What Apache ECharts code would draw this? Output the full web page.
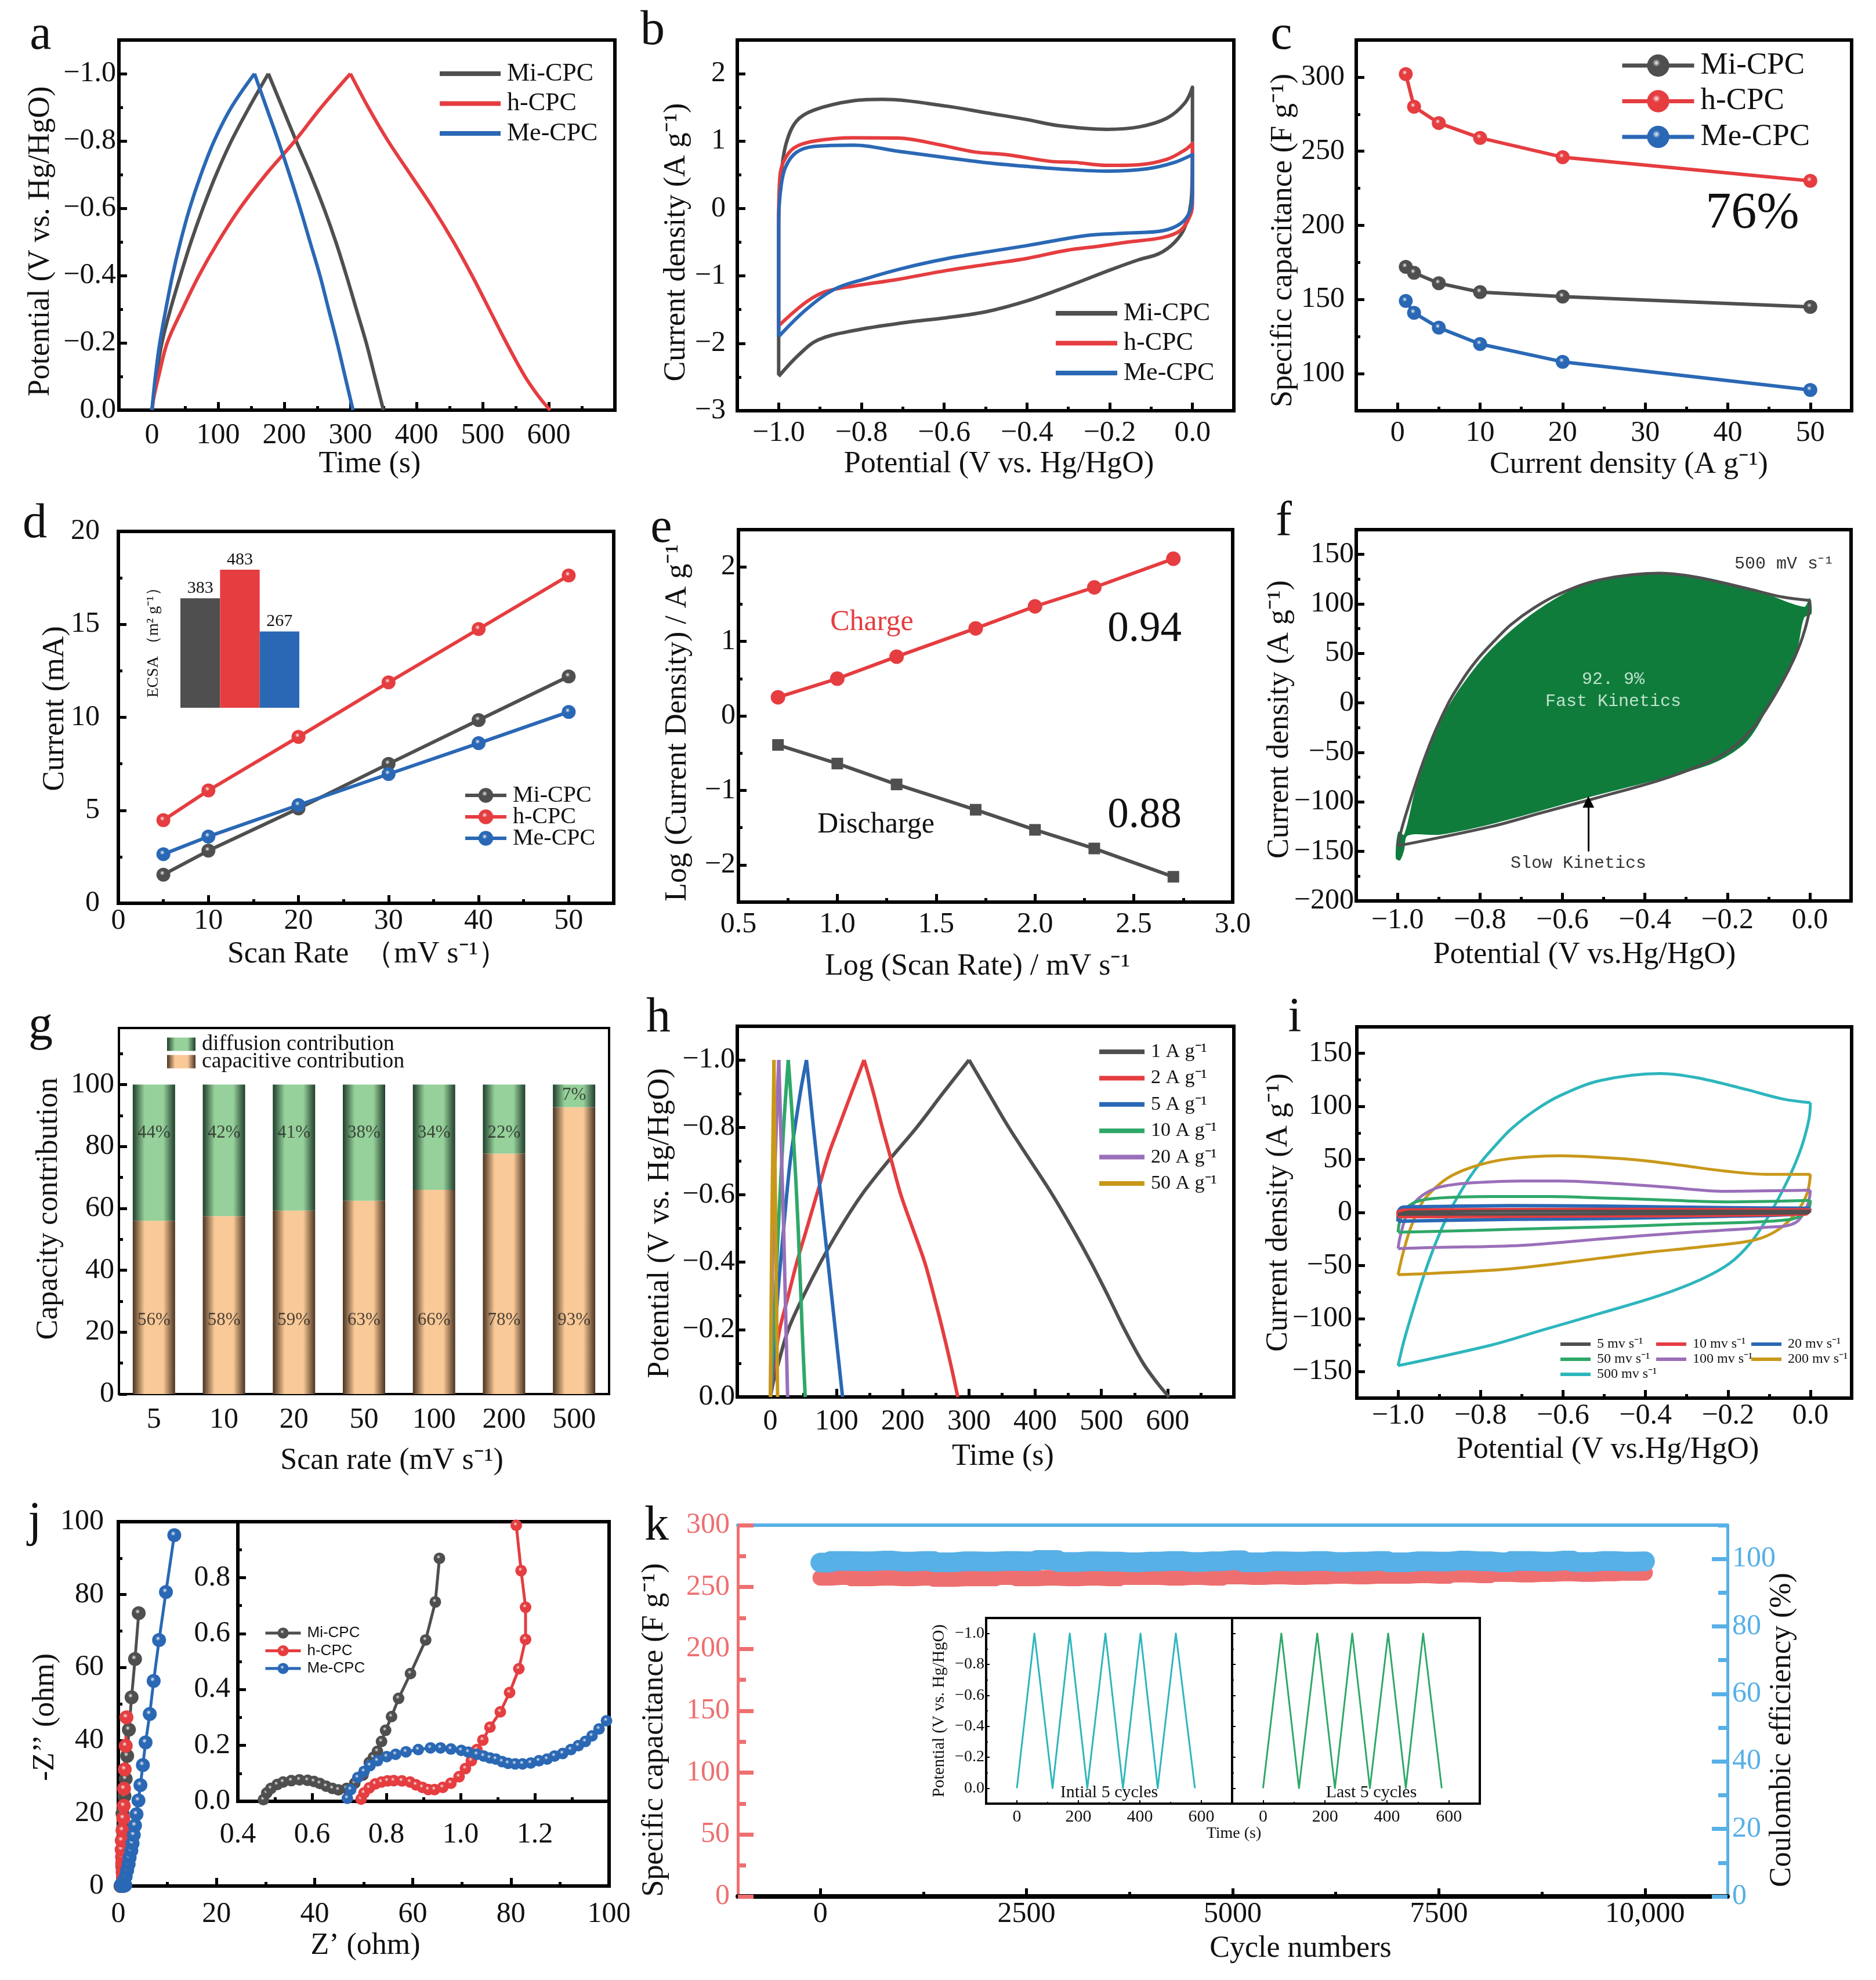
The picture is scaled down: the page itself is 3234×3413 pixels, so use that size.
<!DOCTYPE html>
<html>
<head>
<meta charset="utf-8">
<title>h-CPC electrochemical performance</title>
<script src="https://cdn.jsdelivr.net/npm/echarts@6/dist/echarts.min.js"></script>
<style>
html, body { margin: 0; padding: 0; background: #fff; }
#page { position: relative; width: 3234px; height: 3413px; overflow: hidden; background: #fff; }
#page > div { position: absolute; }
</style>
</head>
<body>
<div id="page"></div>
<script>
// ---------- a: galvanostatic charge/discharge ----------
var aMi = [[0,0],[5,-0.08],[15,-0.2],[28,-0.3],[43,-0.4],[59,-0.5],[77,-0.6],[97,-0.7],[120,-0.8],[147,-0.9],[176,-1],[197,-0.9],[218,-0.8],[240,-0.7],[260,-0.6],[278,-0.5],[294,-0.4],[309,-0.3],[324,-0.2],[337,-0.1],[350,0]];
var aH = [[0,0],[3,-0.04],[10,-0.1],[23,-0.2],[46,-0.3],[71,-0.4],[100,-0.5],[133,-0.6],[172,-0.7],[216,-0.8],[256,-0.9],[300,-1],[327,-0.9],[357,-0.8],[391,-0.7],[425,-0.6],[456,-0.5],[484,-0.4],[510,-0.3],[536,-0.2],[564,-0.1],[585,-0.04],[602,0]];
var aMe = [[0,0],[4,-0.08],[11,-0.19],[20,-0.29],[31,-0.4],[43,-0.5],[57,-0.6],[74,-0.7],[94,-0.8],[120,-0.9],[155,-1],[173,-0.9],[191,-0.8],[208,-0.7],[224,-0.6],[239,-0.5],[254,-0.4],[267,-0.3],[280,-0.2],[292,-0.1],[304,0]];
var aXTicks = [0,100,200,300,400,500,600];
var gcdYTicks = [-1,-0.8,-0.6,-0.4,-0.2,0];

// ---------- b: CV at one scan rate ----------
var bMi = [[-1,-2.47],[-1,-0.2],[-0.994,0.48],[-0.983,0.94],[-0.958,1.29],[-0.915,1.46],[-0.818,1.6],[-0.75,1.62],[-0.595,1.52],[-0.498,1.42],[-0.4,1.32],[-0.324,1.23],[-0.207,1.175],[-0.13,1.21],[-0.062,1.34],[-0.018,1.57],[0,1.8],[0,0.99],[-0.002,0.2],[-0.018,-0.27],[-0.043,-0.5],[-0.081,-0.67],[-0.13,-0.76],[-0.198,-0.91],[-0.304,-1.16],[-0.4,-1.37],[-0.498,-1.53],[-0.595,-1.62],[-0.692,-1.69],[-0.818,-1.81],[-0.905,-1.95],[-0.953,-2.18],[-1,-2.49]];
var bH = [[-1,-1.76],[-1,-0.18],[-0.997,0.48],[-0.987,0.71],[-0.963,0.9],[-0.915,1],[-0.818,1.05],[-0.711,1.045],[-0.614,0.95],[-0.527,0.84],[-0.45,0.8],[-0.343,0.7],[-0.285,0.685],[-0.207,0.64],[-0.13,0.65],[-0.062,0.73],[-0.018,0.87],[0,0.965],[0,0.1],[-0.004,-0.08],[-0.028,-0.32],[-0.072,-0.43],[-0.159,-0.5],[-0.227,-0.56],[-0.304,-0.62],[-0.4,-0.74],[-0.498,-0.83],[-0.595,-0.92],[-0.711,-1.05],[-0.818,-1.15],[-0.886,-1.23],[-0.934,-1.39],[-1,-1.74]];
var bMe = [[-1,-1.9],[-1,-0.18],[-0.994,0.34],[-0.983,0.62],[-0.958,0.83],[-0.915,0.92],[-0.818,0.94],[-0.711,0.85],[-0.595,0.755],[-0.498,0.68],[-0.4,0.625],[-0.304,0.58],[-0.207,0.555],[-0.11,0.59],[-0.043,0.685],[0,0.8],[0,0.2],[-0.006,-0.04],[-0.028,-0.22],[-0.072,-0.33],[-0.159,-0.365],[-0.256,-0.4],[-0.4,-0.55],[-0.498,-0.645],[-0.595,-0.745],[-0.692,-0.875],[-0.789,-1.04],[-0.866,-1.2],[-0.934,-1.5],[-1,-1.9]];
var potentialTicks = [-1,-0.8,-0.6,-0.4,-0.2,0];
var bYTicks = [-3,-2,-1,0,1,2];

// ---------- c: rate capability ----------
var cCurrent = [1,2,5,10,20,50];
var cMi = [172,168,161,155,152,145];
var cH = [302,280,269,259,246,230];
var cMe = [149,141,131,120,108,89];
var cXTicks = [0,10,20,30,40,50];
var cYTicks = [100,150,200,250,300];

// ---------- d: current vs scan rate, ECSA inset ----------
var dScan = [5,10,20,30,40,50];
var dMi = [1.54,2.83,5.1,7.5,9.85,12.2];
var dH = [4.47,6.07,8.95,11.88,14.75,17.63];
var dMe = [2.64,3.59,5.28,6.95,8.61,10.29];
var dXTicks = [0,10,20,30,40,50];
var dYTicks = [0,5,10,15,20];
var ecsaNames = ['Mi-CPC','h-CPC','Me-CPC'];
var ecsaValues = [383,483,267];

// ---------- e: log-log fit ----------
var eLogScan = [0.7,1,1.3,1.7,2,2.3,2.7];
var eCharge = [0.25,0.5,0.795,1.175,1.47,1.725,2.11];
var eDischarge = [-0.39,-0.64,-0.92,-1.26,-1.53,-1.78,-2.16];
var eXTicks = [0.5,1,1.5,2,2.5,3];
var eYTicks = [-2,-1,0,1,2];

// ---------- f, i: CV at scan rates ----------
var cv500 = [[-1,-144.4],[-0.987,-123],[-0.967,-96],[-0.938,-60],[-0.908,-28],[-0.875,1],[-0.852,17],[-0.83,31],[-0.8,47],[-0.762,64],[-0.725,79],[-0.669,96],[-0.608,110],[-0.509,124.4],[-0.364,131],[-0.275,127],[-0.156,116],[-0.067,107],[0,103.5],[-0.003,89],[-0.018,66],[-0.038,45],[-0.067,21],[-0.107,-7],[-0.146,-29],[-0.196,-48],[-0.265,-63],[-0.364,-78],[-0.509,-95],[-0.651,-111],[-0.772,-124.8],[-1,-144.4]];
var fastKinetics = [[-1.004,-157],[-0.998,-130],[-0.984,-133],[-0.955,-85],[-0.9,-22],[-0.85,14],[-0.778,52],[-0.68,88],[-0.563,117],[-0.445,129.5],[-0.367,132],[-0.269,128],[-0.131,114],[-0.014,97],[0,106],[0.004,90],[-0.014,86],[-0.033,51],[-0.092,3],[-0.151,-38],[-0.229,-60],[-0.347,-75],[-0.524,-94],[-0.759,-121],[-0.896,-133],[-0.975,-134],[-0.984,-149],[-0.994,-159]];
var cvXTicks = [-1,-0.8,-0.6,-0.4,-0.2,0];
var fYTicks = [-200,-150,-100,-50,0,50,100,150];
var cv200 = [[-1,-58.6],[-0.9875,-37.7],[-0.969,-14],[-0.941,9.7],[-0.912,22.4],[-0.88,32.4],[-0.842,39.7],[-0.8,45.2],[-0.748,49.7],[-0.678,52.5],[-0.608,53.4],[-0.509,52],[-0.405,49],[-0.305,44],[-0.206,39],[-0.107,36],[0,36],[-0.008,18],[-0.033,0.6],[-0.077,-16],[-0.136,-26],[-0.255,-32],[-0.404,-38],[-0.509,-43],[-0.725,-53],[-0.936,-57.7],[-1,-58.6]];
var cv100 = [[-1,-34],[-0.995,-23],[-0.978,-1.3],[-0.95,13.3],[-0.912,22.4],[-0.88,25.5],[-0.819,28],[-0.701,29.7],[-0.608,29.7],[-0.509,28.2],[-0.354,24],[-0.206,20],[0,21],[-0.008,6],[-0.038,-10],[-0.107,-14],[-0.305,-19],[-0.509,-25],[-0.701,-31],[-0.912,-33],[-1,-34]];
var cv50 = [[-1,-18.6],[-0.996,-8.6],[-0.983,2.4],[-0.959,9.7],[-0.912,13.3],[-0.772,15],[-0.631,15],[-0.509,13.7],[-0.404,12.5],[-0.206,10],[0,11.5],[-0.008,0.6],[-0.057,-7],[-0.305,-11],[-0.509,-13.7],[-0.725,-15.8],[-0.889,-17.7],[-1,-18.6]];
var cv20 = [[-1,-8.6],[-1,-0.4],[-0.987,5],[-0.912,5.6],[-0.725,6.4],[-0.509,6],[-0.2,4.5],[0,4],[-0.013,-1],[-0.206,-3.5],[-0.509,-5.8],[-0.725,-6.4],[-0.997,-8.2],[-1,-8.6]];
var cv10 = [[-1,-4],[-1,0],[-0.98,2.2],[-0.912,2.4],[-0.509,2.9],[0,2.4],[-0.013,-1.5],[-0.725,-3.5],[-1,-4]];
var cv5 = [[-1,-1.8],[-0.97,0.6],[-0.6,1.2],[0,1.2],[-0.013,-0.6],[-0.6,-1.5],[-1,-1.8]];
var iYTicks = [-150,-100,-50,0,50,100,150];

// ---------- g: capacity contribution ----------
var gScan = ['5','10','20','50','100','200','500'];
var gCapacitive = [56,57.5,59.3,62.5,66,77.7,92.7];
var gDiffusion = [44,42.5,40.7,37.5,34,22.3,7.3];
var gCapLabels = ['56%','58%','59%','63%','66%','78%','93%'];
var gDifLabels = ['44%','42%','41%','38%','34%','22%','7%'];
var gYTicks = [0,20,40,60,80,100];

// ---------- h: GCD at current densities ----------
var h1 = [[0,0],[5,-0.05],[12,-0.1],[27,-0.2],[50,-0.3],[76,-0.4],[105,-0.5],[138,-0.6],[178,-0.7],[221,-0.8],[260,-0.9],[300,-1],[330,-0.9],[360,-0.8],[393,-0.7],[426,-0.6],[456,-0.5],[484,-0.4],[510,-0.3],[535,-0.2],[563,-0.1],[585,-0.04],[602,0]];
var h2 = [[0,0],[6,-0.1],[14,-0.2],[27,-0.3],[40,-0.4],[55,-0.5],[73,-0.62],[88,-0.72],[103,-0.8],[122,-0.9],[141.5,-1],[156,-0.9],[169,-0.8],[183,-0.7],[197,-0.6],[215,-0.5],[233,-0.4],[247,-0.3],[260,-0.2],[272,-0.1],[283,0]];
var h5 = [[0,0],[4,-0.1],[11,-0.3],[20,-0.5],[30,-0.7],[45,-0.9],[54.5,-1],[65,-0.8],[76,-0.6],[87,-0.4],[98,-0.2],[109,0]];
var h10 = [[0,0],[5,-0.2],[12,-0.5],[20,-0.8],[27,-1],[34,-0.8],[42,-0.5],[48,-0.2],[52.6,0]];
var h20 = [[0,0],[4,-0.5],[8,-0.75],[12.7,-1],[17,-0.7],[20,-0.5],[26,0]];
var h50 = [[0,0],[2.2,-0.5],[5.4,-1],[8,-0.5],[10.9,0]];
var hXTicks = [0,100,200,300,400,500,600];

// ---------- j: Nyquist ----------
var jMiLow = [[0.469,0.006],[0.478,0.03],[0.489,0.046],[0.506,0.06],[0.522,0.069],[0.544,0.074],[0.566,0.077],[0.588,0.075],[0.605,0.071],[0.621,0.064],[0.638,0.054],[0.655,0.046],[0.671,0.041],[0.693,0.046],[0.715,0.065],[0.737,0.094],[0.754,0.139],[0.765,0.157],[0.776,0.179],[0.787,0.214],[0.798,0.254],[0.814,0.303],[0.833,0.368],[0.865,0.457],[0.906,0.577],[0.932,0.713],[0.943,0.869]];
var jMiHigh = [[0.95,1.2],[0.95,1.8],[0.95,2.6],[0.9,3.8],[0.8,5.5],[0.85,7.5],[0.9,10],[0.95,13],[1,16],[0.85,19.9],[1.25,24.7],[1.5,29.4],[1.8,35.7],[2.15,42.9],[2.7,51.8],[3.4,62.3],[4.15,74.9]];
var jHLow = [[0.732,0.008],[0.74,0.03],[0.754,0.048],[0.77,0.062],[0.787,0.069],[0.803,0.073],[0.82,0.074],[0.842,0.073],[0.864,0.069],[0.88,0.059],[0.897,0.05],[0.913,0.042],[0.93,0.042],[0.952,0.05],[0.974,0.065],[0.996,0.088],[1.013,0.117],[1.029,0.145],[1.044,0.185],[1.06,0.219],[1.079,0.265],[1.107,0.32],[1.132,0.389],[1.157,0.474],[1.175,0.579],[1.175,0.694],[1.163,0.825],[1.15,0.987]];
var jHHigh = [[1.08,1.25],[1.05,1.65],[1,2.2],[0.95,2.9],[0.9,3.8],[0.85,5],[0.8,6.3],[0.75,8],[0.68,10],[0.7,12.5],[0.85,15.3],[1,18.6],[1.1,22],[1.15,26.7],[1.3,32],[1.5,38.5],[1.65,46.3]];
var jMeLow = [[0.695,0.011],[0.704,0.042],[0.723,0.085],[0.74,0.107],[0.756,0.128],[0.776,0.145],[0.801,0.16],[0.825,0.168],[0.853,0.177],[0.886,0.185],[0.919,0.191],[0.946,0.191],[0.974,0.187],[1.002,0.182],[1.021,0.176],[1.044,0.168],[1.062,0.162],[1.079,0.155],[1.095,0.151],[1.112,0.142],[1.128,0.136],[1.147,0.134],[1.167,0.134],[1.189,0.137],[1.211,0.145],[1.233,0.151],[1.253,0.162],[1.275,0.171],[1.297,0.185],[1.317,0.199],[1.336,0.214],[1.354,0.234],[1.373,0.259],[1.393,0.288]];
var jMeHigh = [[0.6,0.4],[1.1,1.3],[1.5,2.6],[1.8,4.3],[2.1,6],[2.3,7.8],[2.65,9.7],[2.9,11.7],[3.15,14],[3.4,16.6],[3.7,19.7],[4.1,23.5],[4.5,27.7],[5,33.2],[5.55,39.4],[6.4,47.2],[7.2,56.3],[8.3,67.5],[9.7,80.7],[11.4,96.3]];
var jTicks = [0,20,40,60,80,100];
var jInsetXTicks = [0.4,0.6,0.8,1,1.2];
var jInsetYTicks = [0,0.2,0.4,0.6,0.8];

// ---------- k: cycling ----------
var kCycles = [0,250,500,750,1000,1250,1500,1750,2000,2250,2500,2750,3000,3250,3500,3750,4000,4250,4500,4750,5000,5250,5500,5750,6000,6250,6500,6750,7000,7250,7500,7750,8000,8250,8500,8750,9000,9250,9500,9750,10000];
var kCapacitance = [257.5,258,257,257.5,257,257.5,256.5,257,257,258,257,257.5,257,257.5,257,258,258,257.5,258,257.5,258.5,258,258.5,258,258.5,259,258.5,259,259,259.5,259,260,259.5,260.5,260,260.5,261,260.5,261,261.5,261.5];
var kEfficiency = [98.9,99.4,99.3,99.5,99.2,99.4,99,99.3,99.2,99.4,99.3,99.7,99.1,99.3,99.2,99,99.2,99.4,99.1,99.3,99.6,99,99.3,99.2,99.4,99.1,99.2,99.4,99,99.3,99.2,99.5,99.3,99,99.4,99.2,99.5,99.1,99.4,99.2,99.3];
var kXTicks = [0,2500,5000,7500,10000];
var kLeftTicks = [0,50,100,150,200,250,300];
var kRightTicks = [0,20,40,60,80,100];
var kInitial = [[0,0],[57,-1],[116,0],[172,-1],[229,0],[288,-1],[345,0],[402,-1],[458,0],[517,-1],[579,0]];
var kLast = [[0,0],[59,-1],[116,0],[175,-1],[232,0],[288,-1],[345,0],[404,-1],[461,0],[517,-1],[577,0]];
var kInsetXTicks = [0,200,400,600];

var SERIF = 'Liberation Serif';
var GRAY = '#4f4f4f', RED = '#e53d40', BLUE = '#2a68b5';
var TEAL = '#2db6bc', GREEN = '#2ea868', PURPLE = '#9a6fba', GOLD = '#c9981a';
var ox = 0, oy = 0;

function fmt1(v) { return v.toFixed(1).replace('-', '\u2212'); }
function fmt0(v) { return v.toFixed(0).replace('-', '\u2212'); }

function minorsOf(major, min, max) {
    var step = major[1] - major[0], out = [];
    for (var v = major[0] - step / 2; v <= Math.max(min, max) + 1e-9; v += step) {
        if (v >= Math.min(min, max) - 1e-9) out.push(Math.round(v * 1e6) / 1e6);
    }
    return out;
}

// returns [major axis, minor-tick axis] sharing the same scale
function axisPair(o) {
    var font = o.fontSize || 50;
    var pad = 0;
    var shift = o.shift || 0;
    if (o.vertical) pad = shift > 0 ? [0, 2 * shift, 0, 0] : [0, 0, 0, -2 * shift];
    else pad = shift > 0 ? [0, 0, 0, 2 * shift] : [0, -2 * shift, 0, 0];
    var tickColor = o.color || '#000';
    var base = {
        type: 'value', gridIndex: o.grid || 0, min: o.min, max: o.max, inverse: !!o.inverse,
        position: o.position, splitLine: { show: false },
        axisLine: { show: !!o.line, onZero: false, lineStyle: { color: tickColor, width: o.line || 1 } }
    };
    var major = Object.assign({}, base, {
        name: o.name, nameLocation: 'middle', nameGap: o.nameGap, nameMoveOverlap: false,
        nameRotate: o.vertical ? 90 : 0,
        nameTextStyle: { fontFamily: SERIF, fontSize: o.nameSize || 52, color: o.nameColor || '#111', padding: pad },
        axisTick: { show: true, inside: true, length: o.tick || 14, customValues: o.ticks, lineStyle: { color: tickColor, width: o.tickWidth || 5 } },
        axisLabel: { show: o.noLabels ? false : true, inside: false, margin: o.margin, customValues: o.labelTicks || o.ticks, formatter: o.fmt,
            fontFamily: SERIF, fontSize: font, color: o.labelColor || '#111', hideOverlap: false }
    });
    var minor = Object.assign({}, base, {
        axisLine: { show: false, onZero: false },
        axisTick: { show: true, inside: true, length: o.minorTick || 7, customValues: minorsOf(o.ticks, o.min, o.max), lineStyle: { color: tickColor, width: o.minorWidth || 5 } },
        axisLabel: { show: false }
    });
    return [major, minor];
}

function gridBox(box, border, z) {
    return { left: box[0] - ox, top: box[1] - oy, width: box[2] - box[0], height: box[3] - box[1], outerBoundsMode: 'none',
        show: true, borderColor: '#000', borderWidth: border === undefined ? 6 : border, backgroundColor: 'transparent', z: z || 2 };
}

function note(text, x, y, size, color, family, rot) {
    return { type: 'text', x: x - ox, y: y - oy, rotation: rot || 0, z: 50,
        style: { text: text, fill: color || '#111', fontFamily: family || SERIF, fontSize: size, align: 'center', verticalAlign: 'middle' } };
}

function letter(ch, x, y) { return note(ch, x, y, 84, '#111'); }

function legendAt(names, left, firstRow, pitch, lineLen, iconH, size, family) {
    // tight rows: text height is the font size, so a pitch below it needs a negative gap
    var rowH = Math.max(pitch, size);
    return { data: names, orient: 'vertical', selectedMode: false, left: left - ox, top: firstRow - rowH / 2 - oy, padding: 0,
        itemGap: pitch - rowH, itemWidth: lineLen, itemHeight: iconH,
        textStyle: { fontFamily: family || SERIF, fontSize: size, color: '#111', lineHeight: rowH, padding: [0, 0, 0, 6] } };
}

function plainLegend(names, left, firstRow, pitch, lineLen, iconH, size) {
    return Object.assign(legendAt(names, left, firstRow, pitch, lineLen, iconH, size), { icon: 'rect' });
}

function ballLegend(names, left, firstRow, pitch, lineLen, iconH, size, family, width) {
    return Object.assign(legendAt(names, left, firstRow, pitch, lineLen, iconH, size, family), { lineStyle: { width: width } });
}

function line(name, data, color, width, xi, yi) {
    return { type: 'line', name: name, data: data, xAxisIndex: xi || 0, yAxisIndex: yi || 0, showSymbol: false, symbol: 'none', silent: true,
        lineStyle: { color: color, width: width || 6, join: 'round' }, itemStyle: { color: color } };
}

// break a curve at its sharp turns so only the branches get smoothed: dim 0 for CV loops, dim 1 for GCD triangles
function branches(name, data, color, width, dim) {
    var out = [], piece = [data[0]], sign = 0;
    for (var i = 1; i < data.length; i++) {
        var d = data[i][dim] - data[i - 1][dim];
        var s = d > 0 ? 1 : (d < 0 ? -1 : 0);
        if (s && sign && s !== sign) {
            out.push(piece);
            piece = [data[i - 1]];
        }
        if (s) sign = s;
        piece.push(data[i]);
    }
    out.push(piece);
    return out.map(function (p) {
        var l = line(name, p, color, width);
        l.smooth = 0.35;
        return l;
    });
}

function sphere(color) {
    return new echarts.graphic.RadialGradient(0.42, 0.38, 0.62, [
        { offset: 0, color: '#f2f2f2' }, { offset: 0.28, color: color }, { offset: 1, color: color }
    ]);
}

function ball(name, data, color, size, width, xi, yi) {
    return { type: 'line', name: name, data: data, xAxisIndex: xi || 0, yAxisIndex: yi || 0, symbol: 'circle', symbolSize: size, showSymbol: true, showAllSymbol: true, silent: true,
        lineStyle: { color: color, width: width || 6 }, itemStyle: { color: sphere(color) } };
}

function pairs(xs, ys) { return xs.map(function (x, i) { return [x, ys[i]]; }); }

function makePanel(region, build) {
    ox = region[0]; oy = region[1];
    var div = document.createElement('div');
    div.style.left = region[0] + 'px'; div.style.top = region[1] + 'px';
    div.style.width = region[2] + 'px'; div.style.height = region[3] + 'px';
    document.getElementById('page').appendChild(div);
    var chart = echarts.init(div, null, { renderer: 'canvas' });
    var option = build();
    option.animation = false;
    chart.setOption(option);
    return chart;
}

var cpcNames = ['Mi-CPC', 'h-CPC', 'Me-CPC'];

// a
makePanel([0, 0, 1085, 850], function () {
    return {
        grid: [gridBox([205, 69, 1060, 707])],
        xAxis: axisPair({ min: -50, max: 700, ticks: aXTicks, fmt: fmt0, margin: 19, name: 'Time (s)', nameGap: 67, shift: 5, position: 'bottom' }),
        yAxis: axisPair({ min: -1.1, max: 0, inverse: true, ticks: gcdYTicks, fmt: fmt1, margin: 5, name: 'Potential (V vs. Hg/HgO)', nameGap: 109, shift: 28, vertical: true, position: 'left' }),
        legend: plainLegend(cpcNames, 758, 127, 51.5, 105, 8, 44),
        series: [].concat(branches('Mi-CPC', aMi, GRAY, 6, 1), branches('h-CPC', aH, RED, 6, 1), branches('Me-CPC', aMe, BLUE, 6, 1)),
        graphic: [letter('a', 70, 62)]
    };
});

// b
makePanel([1085, 0, 1065, 850], function () {
    return {
        grid: [gridBox([1271, 69, 2127, 708])],
        xAxis: axisPair({ min: -1.1, max: 0.1, ticks: potentialTicks, fmt: fmt1, margin: 14, name: 'Potential (V vs. Hg/HgO)', nameGap: 66, shift: 23, position: 'bottom' }),
        yAxis: axisPair({ min: -3, max: 2.5, ticks: bYTicks, fmt: fmt0, margin: 20, name: 'Current density (A g\u207b\u00b9)', nameGap: 79, shift: 29, vertical: true, position: 'left' }),
        legend: plainLegend(cpcNames, 1820, 540, 51.5, 106, 8, 44),
        series: [].concat(branches('Mi-CPC', bMi, GRAY, 6, 0), branches('h-CPC', bH, RED, 6, 0), branches('Me-CPC', bMe, BLUE, 6, 0)),
        graphic: [letter('b', 1125, 54)]
    };
});

// c
makePanel([2150, 0, 1084, 850], function () {
    return {
        grid: [gridBox([2338, 69, 3192, 708])],
        xAxis: axisPair({ min: -5, max: 55, ticks: cXTicks, fmt: fmt0, margin: 14, name: 'Current density (A g\u207b\u00b9)', nameGap: 67, shift: 43, position: 'bottom' }),
        yAxis: axisPair({ min: 75, max: 325, ticks: cYTicks, fmt: fmt0, margin: 20, name: 'Specific capacitance (F g\u207b\u00b9)', nameGap: 100, shift: 26, vertical: true, position: 'left' }),
        legend: ballLegend(cpcNames, 2793, 113, 61.5, 124, 48, 53, SERIF, 7),
        series: [ball('Mi-CPC', pairs(cCurrent, cMi), GRAY, 24), ball('h-CPC', pairs(cCurrent, cH), RED, 24), ball('Me-CPC', pairs(cCurrent, cMe), BLUE, 24)],
        graphic: [letter('c', 2209, 62), note('76%', 3021, 369, 88)]
    };
});

// d with ECSA bars
makePanel([0, 850, 1085, 850], function () {
    var xs = axisPair({ min: 0, max: 55, ticks: dXTicks, fmt: fmt0, margin: 6, name: 'Scan Rate  \uff08mV s\u207b\u00b9\uff09', nameGap: 62, shift: 3, position: 'bottom' });
    var ys = axisPair({ min: 0, max: 20, ticks: dYTicks, fmt: fmt0, margin: 32, name: 'Current (mA)', nameGap: 83, shift: -15, vertical: true, position: 'left' });
    xs.push({ type: 'category', gridIndex: 1, data: ecsaNames, show: false });
    ys.push({ type: 'value', gridIndex: 1, min: 0, max: 483, splitLine: { show: false }, axisLine: { show: false }, axisTick: { show: false }, axisLabel: { show: false },
        name: 'ECSA \uff08m\u00b2 g\u207b\u00b9\uff09', nameLocation: 'middle', nameGap: 32, nameRotate: 90, nameMoveOverlap: false,
        nameTextStyle: { fontFamily: SERIF, fontSize: 28, color: '#111' } });
    var ecsaColors = [GRAY, RED, BLUE];
    return {
        grid: [gridBox([204, 916, 1058, 1557]), Object.assign(gridBox([311, 982, 516, 1220], 0), { show: false })],
        xAxis: xs, yAxis: ys,
        legend: ballLegend(cpcNames, 799, 1371, 37, 71, 32, 40, SERIF, 6),
        series: [
            ball('Mi-CPC', pairs(dScan, dMi), GRAY, 24), ball('h-CPC', pairs(dScan, dH), RED, 24), ball('Me-CPC', pairs(dScan, dMe), BLUE, 24),
            { type: 'bar', name: 'ECSA', xAxisIndex: 2, yAxisIndex: 2, data: ecsaValues, barCategoryGap: '0%', silent: true,
              itemStyle: { color: function (p) { return ecsaColors[p.dataIndex]; } },
              label: { show: true, position: 'top', distance: 2, fontFamily: SERIF, fontSize: 30, color: '#111' } }
        ],
        graphic: [letter('d', 60, 904)]
    };
});

// e
makePanel([1085, 850, 1100, 850], function () {
    return {
        grid: [gridBox([1273, 913, 2125, 1555])],
        xAxis: axisPair({ min: 0.5, max: 3, ticks: eXTicks, fmt: fmt1, margin: 14, name: 'Log (Scan Rate) / mV s\u207b\u00b9', nameGap: 85, shift: -14, position: 'bottom' }),
        yAxis: axisPair({ min: -2.5, max: 2.5, ticks: eYTicks, fmt: fmt0, margin: 5, name: 'Log (Current Density) / A g\u207b\u00b9', nameGap: 79, shift: 12, vertical: true, position: 'left' }),
        series: [
            { type: 'line', name: 'Discharge', data: pairs(eLogScan, eDischarge), symbol: 'rect', symbolSize: 20, silent: true, lineStyle: { color: GRAY, width: 6 }, itemStyle: { color: GRAY } },
            { type: 'line', name: 'Charge', data: pairs(eLogScan, eCharge), symbol: 'circle', symbolSize: 25, silent: true, lineStyle: { color: RED, width: 6 }, itemStyle: { color: RED } }
        ],
        graphic: [letter('e', 1140, 912), note('Charge', 1503, 1073, 50, RED), note('Discharge', 1510, 1422, 50), note('0.94', 1973, 1086, 73), note('0.88', 1973, 1407, 73)]
    };
});

// f
makePanel([2150, 850, 1084, 850], function () {
    var outline = branches('500 mV s\u207b\u00b9', cv500, GRAY, 5, 0);
    outline[0].markLine = { silent: true, symbol: ['none', 'triangle'], symbolSize: 20, label: { show: false }, animation: false,
        lineStyle: { color: '#000', width: 3, type: 'solid' },
        data: [[{ coord: [-0.537, -150] }, { coord: [-0.537, -100] }]] };
    return {
        grid: [gridBox([2338, 913, 3191, 1553])],
        xAxis: axisPair({ min: -1.1, max: 0.1, ticks: cvXTicks, fmt: fmt1, margin: 9, name: 'Potential (V vs.Hg/HgO)', nameGap: 67, shift: -33, position: 'bottom' }),
        yAxis: axisPair({ min: -200, max: 175, ticks: fYTicks, fmt: fmt0, margin: 4, name: 'Current density (A g\u207b\u00b9)', nameGap: 106, shift: 7, vertical: true, position: 'left' }),
        series: [{
            type: 'custom', name: 'Fast Kinetics', coordinateSystem: 'cartesian2d', data: fastKinetics, silent: true, clip: false,
            renderItem: function (params, api) {
                if (params.dataIndex !== 0) return null;
                return { type: 'polygon', shape: { points: fastKinetics.map(function (p) { return api.coord(p); }), smooth: 0.3 }, style: { fill: '#107c3c' } };
            }
        }].concat(outline),
        graphic: [
            letter('f', 2213, 900),
            note('500 mV s\u207b\u00b9', 3076, 972, 30, '#333', 'Liberation Mono'),
            note('92. 9%', 2781, 1171, 30, '#bfe3cd', 'Liberation Mono'),
            note('Fast Kinetics', 2781, 1209, 30, '#bfe3cd', 'Liberation Mono'),
            note('Slow Kinetics', 2721, 1488, 30, '#333', 'Liberation Mono')
        ]
    };
});

// g
makePanel([0, 1700, 1085, 860], function () {
    var yPair = axisPair({ min: 0, max: 118.3, ticks: gYTicks, fmt: fmt0, margin: 8, name: 'Capacity contribution', nameGap: 95, shift: -4, vertical: true, position: 'left' });
    function shade(dark, light) {
        return new echarts.graphic.LinearGradient(0, 0, 1, 0, [
            { offset: 0, color: dark }, { offset: 0.28, color: light }, { offset: 0.72, color: light }, { offset: 1, color: dark }
        ]);
    }
    var peach = shade('#4a3321', '#f9c997'), mint = shade('#1f3d2a', '#96d09a');
    var labelStyle = { show: true, position: 'inside', fontFamily: SERIF, fontSize: 31, color: '#222' };
    return {
        grid: [gridBox([205, 1772, 1050, 2403], 4)],
        xAxis: { type: 'category', data: gScan, position: 'bottom', name: 'Scan rate (mV s\u207b\u00b9)', nameLocation: 'middle', nameGap: 89, nameMoveOverlap: false,
            nameTextStyle: { fontFamily: SERIF, fontSize: 52, color: '#111', padding: [0, 0, 0, 96] },
            axisLine: { show: false, onZero: false }, axisTick: { show: false },
            axisLabel: { margin: 20, fontFamily: SERIF, fontSize: 50, color: '#111' } },
        yAxis: yPair,
        legend: Object.assign(legendAt(['diffusion contribution', 'capacitive contribution'], 288, 1800, 30, 49, 23, 38), { icon: 'rect' }),
        series: [
            { type: 'bar', name: 'capacitive contribution', stack: 'share', data: gCapacitive, barWidth: 73, silent: true, itemStyle: { color: peach } },
            { type: 'bar', name: 'diffusion contribution', stack: 'share', data: gDiffusion, barWidth: 73, silent: true, itemStyle: { color: mint } },
            { type: 'scatter', name: 'cap labels', symbolSize: 0, silent: true, data: gCapLabels.map(function (t, i) { return [i, 23.9]; }),
              label: Object.assign({ formatter: function (p) { return gCapLabels[p.dataIndex]; } }, labelStyle) },
            { type: 'scatter', name: 'dif labels', symbolSize: 0, silent: true, data: gDiffusion.map(function (v, i) { return [i, v < 10 ? 96.5 : 84.3]; }),
              label: Object.assign({ formatter: function (p) { return gDifLabels[p.dataIndex]; } }, labelStyle) }
        ],
        graphic: [letter('g', 70, 1770)]
    };
});

// h
makePanel([1085, 1700, 1065, 860], function () {
    var names = ['1 A g\u207b\u00b9', '2 A g\u207b\u00b9', '5 A g\u207b\u00b9', '10 A g\u207b\u00b9', '20 A g\u207b\u00b9', '50 A g\u207b\u00b9'];
    return {
        grid: [gridBox([1271, 1769, 2127, 2408])],
        xAxis: axisPair({ min: -50, max: 700, ticks: hXTicks, fmt: fmt0, margin: 18, name: 'Time (s)', nameGap: 77, shift: 30, position: 'bottom' }),
        yAxis: axisPair({ min: -1.1, max: 0, inverse: true, ticks: gcdYTicks, fmt: fmt1, margin: 4, name: 'Potential (V vs. Hg/HgO)', nameGap: 107, shift: 20, vertical: true, position: 'left' }),
        legend: plainLegend(names, 1895, 1813, 45.4, 78, 8, 34),
        series: [].concat(branches(names[0], h1, GRAY, 6, 1), branches(names[1], h2, RED, 6, 1), branches(names[2], h5, BLUE, 6, 1), branches(names[3], h10, GREEN, 6, 1), branches(names[4], h20, PURPLE, 6, 1), branches(names[5], h50, GOLD, 6, 1)),
        graphic: [letter('h', 1135, 1756)]
    };
});

// i
makePanel([2150, 1700, 1084, 860], function () {
    var n = ['5 mv s\u207b\u00b9', '10 mv s\u207b\u00b9', '20 mv s\u207b\u00b9', '50 mv s\u207b\u00b9', '100 mv s\u207b\u00b9', '200 mv s\u207b\u00b9', '500 mv s\u207b\u00b9'];
    return {
        grid: [gridBox([2339, 1770, 3192, 2410])],
        xAxis: axisPair({ min: -1.1, max: 0.1, ticks: cvXTicks, fmt: fmt1, margin: 6, name: 'Potential (V vs.Hg/HgO)', nameGap: 63, shift: 6, position: 'bottom' }),
        yAxis: axisPair({ min: -175, max: 175, ticks: iYTicks, fmt: fmt0, margin: 8, name: 'Current density (A g\u207b\u00b9)', nameGap: 109, shift: 0, vertical: true, position: 'left' }),
        legend: [
            plainLegend([n[0], n[3], n[6]], 2690, 2317, 26, 52, 6, 24),
            plainLegend([n[1], n[4]], 2855, 2317, 26, 52, 6, 24),
            plainLegend([n[2], n[5]], 3019, 2317, 26, 52, 6, 24)
        ],
        series: [].concat(branches(n[6], cv500, TEAL, 5, 0), branches(n[5], cv200, GOLD, 5, 0), branches(n[4], cv100, PURPLE, 5, 0), branches(n[3], cv50, GREEN, 5, 0), branches(n[2], cv20, BLUE, 6, 0), branches(n[1], cv10, RED, 6, 0), branches(n[0], cv5, GRAY, 5, 0)),
        graphic: [letter('i', 2232, 1756)]
    };
});

// j with inset
makePanel([0, 2560, 1085, 853], function () {
    var xs = axisPair({ min: 0, max: 100, ticks: jTicks, fmt: fmt0, margin: 24, name: 'Z\u2019 (ohm)', nameGap: 77, shift: 3, position: 'bottom' });
    var ys = axisPair({ min: 0, max: 100, ticks: jTicks, fmt: fmt0, margin: 25, name: '-Z\u2019\u2019 (ohm)', nameGap: 100, shift: 23, vertical: true, position: 'left' });
    var xi = axisPair({ grid: 1, min: 0.4, max: 1.4, ticks: jInsetXTicks, fmt: fmt1, margin: 33, position: 'bottom' });
    var yi = axisPair({ grid: 1, min: 0, max: 1, ticks: jInsetYTicks, fmt: fmt1, margin: 13, position: 'left' });
    return {
        grid: [gridBox([204, 2623, 1050, 3251]), gridBox([410, 2623, 1050, 3105])],
        xAxis: xs.concat(xi), yAxis: ys.concat(yi),
        legend: ballLegend(cpcNames, 455, 2815, 30.5, 61, 24, 26, 'Liberation Sans', 5),
        series: [
            ball('Mi-CPC', jMiLow.concat(jMiHigh), GRAY, 24, 5), ball('h-CPC', jHLow.concat(jHHigh), RED, 24, 5), ball('Me-CPC', jMeLow.concat(jMeHigh), BLUE, 24, 5),
            ball('Mi-CPC', jMiLow, GRAY, 20, 5, 2, 2), ball('h-CPC', jHLow, RED, 20, 5, 2, 2), ball('Me-CPC', jMeLow, BLUE, 20, 5, 2, 2)
        ],
        graphic: [letter('j', 60, 2625)]
    };
});

// k with two GCD insets
makePanel([1085, 2560, 2149, 853], function () {
    var PINK = '#ee6f70', SKY = '#57b0e6';
    var xs = axisPair({ min: -1000, max: 11000, ticks: kXTicks, line: 8, tick: 14, minorTick: 8, margin: 6,
        fmt: function (v) { return v === 10000 ? '10,000' : String(v); }, name: 'Cycle numbers', nameGap: 64, shift: 117, position: 'bottom' });
    var top = { type: 'value', min: -1000, max: 11000, position: 'top', show: true, axisLine: { show: true, onZero: false, lineStyle: { color: SKY, width: 6 } },
        axisTick: { show: false }, axisLabel: { show: false }, splitLine: { show: false } };
    var yl = axisPair({ min: 0, max: 300, ticks: kLeftTicks, fmt: fmt0, color: PINK, labelColor: PINK, line: 5, tick: 27, minorTick: 14, margin: 14, tickWidth: 7, minorWidth: 7,
        name: 'Specific capacitance (F g\u207b\u00b9)', nameGap: 118, shift: 33, vertical: true, position: 'left' });
    var yr = axisPair({ min: 0, max: 110, ticks: kRightTicks, fmt: fmt0, color: SKY, labelColor: SKY, line: 5, tick: 27, minorTick: 16, margin: 8, tickWidth: 7, minorWidth: 7,
        name: 'Coulombic efficiency (%)', nameGap: 68, shift: 33, vertical: true, position: 'right' });
    function insetX(grid) {
        return axisPair({ grid: grid, min: -100, max: 700, ticks: kInsetXTicks, fmt: fmt0, margin: 8, fontSize: 30, tick: 6, minorTick: 3, tickWidth: 2, minorWidth: 2, position: 'bottom' });
    }
    function insetY(grid, labels) {
        var o = { grid: grid, min: -1.1, max: 0.1, inverse: true, ticks: gcdYTicks, fmt: fmt1, margin: 3, fontSize: 28, tick: 6, minorTick: 3, tickWidth: 2, minorWidth: 2, position: 'left', noLabels: !labels };
        if (labels) { o.name = 'Potential (V vs. Hg/HgO)'; o.nameGap = 66; o.nameSize = 29; o.vertical = true; }
        return axisPair(o);
    }
    // indexes: x 0,1 main, 2 top, 3,4 first inset, 5,6 second inset; y 0,1 left, 2,3 right, 4,5 first inset, 6,7 second inset
    var kCap = line('Specific capacitance', pairs(kCycles, kCapacitance), PINK, 27);
    kCap.step = 'middle';
    kCap.lineStyle.cap = 'round';
    var kEff = line('Coulombic efficiency', pairs(kCycles, kEfficiency), SKY, 34, 0, 2);
    kEff.step = 'middle';
    kEff.lineStyle.cap = 'round';
    return {
        grid: [Object.assign(gridBox([1272, 2629, 2978, 3269], 0), { show: false }), gridBox([1700, 2789, 2124, 3109], 4, 5), gridBox([2124, 2789, 2551, 3109], 4, 5)],
        xAxis: xs.concat([top], insetX(1), insetX(2)),
        yAxis: yl.concat(yr, insetY(1, true), insetY(2, false)),
        series: [kCap, kEff, line('Intial 5 cycles', kInitial, TEAL, 3, 3, 4), line('Last 5 cycles', kLast, GREEN, 3, 5, 6)],
        graphic: [
            letter('k', 1132, 2632),
            note('Intial 5 cycles', 1912, 3090, 30),
            note('Last 5 cycles', 2364, 3090, 30),
            note('Time (s)', 2127, 3161, 28)
        ]
    };
});
</script>
</body>
</html>
